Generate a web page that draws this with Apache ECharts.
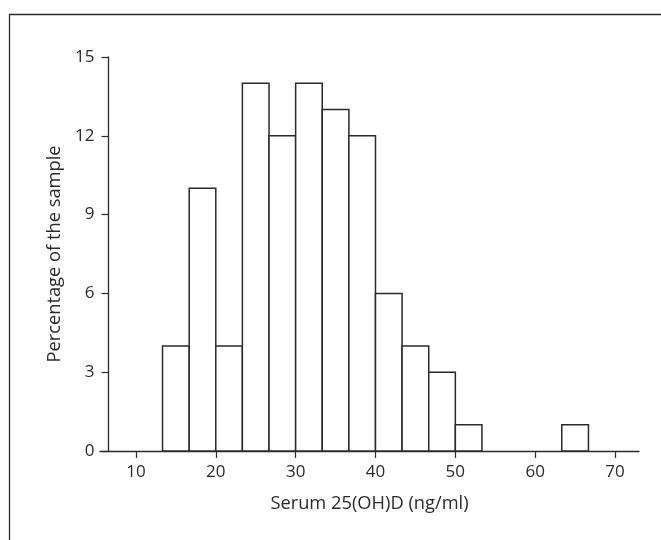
<!DOCTYPE html>
<html>
<head>
<meta charset="utf-8">
<script src="https://cdn.jsdelivr.net/npm/echarts@6/dist/echarts.min.js"></script>
<style>
  html, body { margin: 0; padding: 0; background: #fff; }
  #chart { width: 661px; height: 540px; }
</style>
</head>
<body>
<div id="chart"></div>
<script>
// bin edges (ng/ml), width 10/3
const binStarts = [13.33, 16.67, 20, 23.33, 26.67, 30, 33.33, 36.67, 40, 43.33, 46.67, 50, 63.33]
const binEnds = [16.67, 20, 23.33, 26.67, 30, 33.33, 36.67, 40, 43.33, 46.67, 50, 53.33, 66.67]
const percents = [4, 10, 4, 14, 12, 14, 13, 12, 6, 4, 3, 1, 1]
const xTicks = [10, 20, 30, 40, 50, 60, 70]

const font = '"Open Sans", sans-serif'
const ink = '#2b2b2b'

const chart = echarts.init(document.getElementById('chart'))

chart.setOption({
  animation: false,
  backgroundColor: '#fff',
  graphic: [{
    type: 'rect',
    shape: { x: 9.5, y: 14.5, width: 700, height: 600 },
    style: { fill: 'none', stroke: ink, lineWidth: 1.3 },
    silent: true
  }],
  grid: { left: 100, right: 22, top: 57, bottom: 89 },
  xAxis: {
    type: 'value',
    min: 5.5,
    max: 73,
    name: 'Serum 25(OH)D (ng/ml)',
    nameLocation: 'middle',
    nameGap: 44,
    nameTextStyle: { fontFamily: font, fontSize: 18.3, color: ink },
    axisLine: { onZero: false, lineStyle: { color: ink, width: 1.3 } },
    axisTick: { show: true, customValues: xTicks, length: 7, lineStyle: { color: ink, width: 1.2 } },
    axisLabel: { customValues: xTicks, fontFamily: font, fontSize: 17, color: ink, margin: 13 },
    splitLine: { show: false }
  },
  yAxis: {
    type: 'value',
    min: 0,
    max: 15,
    interval: 3,
    offset: -8.5,
    name: 'Percentage of the sample',
    nameLocation: 'middle',
    nameGap: 42,
    nameTextStyle: { fontFamily: font, fontSize: 18.3, color: ink },
    axisLine: { show: true, lineStyle: { color: ink, width: 1.3 } },
    axisTick: { show: true, length: 7, lineStyle: { color: ink, width: 1.2 } },
    axisLabel: { fontFamily: font, fontSize: 17, color: ink, margin: 14 },
    splitLine: { show: false }
  },
  series: [{
    type: 'custom',
    data: binStarts.map((s, i) => [s, binEnds[i], percents[i]]),
    encode: { x: [0, 1], y: 2 },
    renderItem: (params, api) => {
      const p0 = api.coord([api.value(0), 0])
      const p1 = api.coord([api.value(1), api.value(2)])
      return {
        type: 'rect',
        shape: { x: p0[0], y: p1[1], width: p1[0] - p0[0], height: p0[1] - p1[1] },
        style: { fill: '#fff', stroke: ink, lineWidth: 1.5 }
      }
    }
  }]
})
</script>
</body>
</html>
